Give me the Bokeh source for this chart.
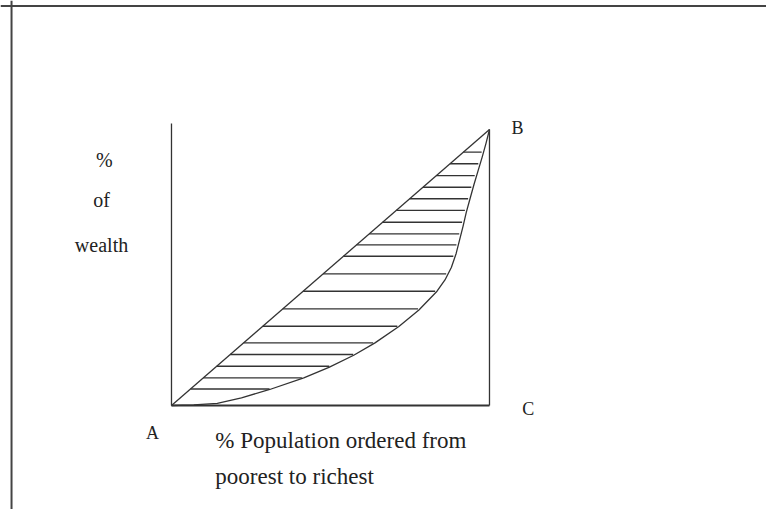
import numpy as np
from bokeh.plotting import figure
from bokeh.models import Span, Label
from bokeh.embed import file_html
from bokeh.resources import INLINE

# Lorenz curve (% population, % wealth)
curve_pop = [0, 7.0, 14.4, 22.0, 30.9, 41.6, 49.5, 57.3, 64.0, 71.5, 77.8, 83.5,
             86.0, 88.0, 89.5, 90.6, 91.7, 92.7, 93.9, 95.1, 96.4, 97.7, 98.9, 100]
curve_wealth = [0, 0.2, 0.8, 2.8, 5.8, 10.0, 13.8, 18.2, 22.7, 28.6, 34.6, 41.4,
                45.5, 50.0, 55.0, 60.0, 65.0, 70.0, 75.0, 80.0, 85.0, 90.0, 95.0, 100]

# line of equality
equality_pop = [0, 100]
equality_wealth = [0, 100]

# heights of the horizontal hatch lines (% wealth)
hatch_levels = [6.0, 10.0, 14.2, 18.5, 22.7, 28.7, 35.0, 41.4, 47.7, 54.1,
                58.2, 62.2, 66.4, 70.7, 74.9, 79.1, 83.3, 87.6, 91.8]

corner_labels = ["A", "B", "C"]
y_label_lines = ["%", "of", "wealth"]
x_label_lines = ["% Population ordered from", "poorest to richest"]

FONT = "Liberation Serif"
INK = "#333333"

p = figure(width=766, height=509, output_backend="svg", toolbar_location=None,
           x_range=(-53.77, 187.11), y_range=(-37.68, 146.74),
           min_border=0, min_border_left=0, min_border_right=0,
           min_border_top=0, min_border_bottom=0)
p.axis.visible = False
p.grid.visible = False
p.outline_line_color = None
p.background_fill_color = "white"

# page border (top and left edges)
p.add_layout(Span(location=144.75, dimension="width", line_color="#444", line_width=2))
p.add_layout(Span(location=-50.3, dimension="height", line_color="#444", line_width=2))

# box: left side, bottom, right side
p.line([0, 0], [0, 102.2], line_color=INK, line_width=1.3)
p.line([0, 100], [0, 0], line_color=INK, line_width=1.8)
p.line([100, 100], [0, 100], line_color=INK, line_width=1.3)

# equality diagonal and Lorenz curve
p.line(equality_pop, equality_wealth, line_color=INK, line_width=1.3)
p.line(curve_pop, curve_wealth, line_color=INK, line_width=1.3)

# hatching between diagonal and curve
lv = np.array(hatch_levels)
x_end = np.interp(lv, curve_wealth, curve_pop)
x_start = np.interp(lv, equality_wealth, equality_pop)
p.segment(x0=x_start, y0=lv, x1=x_end - 0.6, y1=lv, line_color=INK, line_width=1.4)

# corner labels
for txt, (x, y) in zip(corner_labels, [(-6.0, -10.1), (108.8, 100.7), (112.2, -1.1)]):
    p.add_layout(Label(x=x, y=y, text=txt, text_font=FONT, text_font_size="18px",
                       text_color="#222", text_align="center", text_baseline="middle"))

# y label
for txt, (x, y) in zip(y_label_lines, [(-21.1, 88.8), (-22.0, 74.3), (-22.0, 58.0)]):
    p.add_layout(Label(x=x, y=y, text=txt, text_font=FONT, text_font_size="20px",
                       text_color="#222", text_align="center", text_baseline="middle"))

# x label
for txt, (x, y) in zip(x_label_lines, [(13.8, -12.7), (13.8, -25.7)]):
    p.add_layout(Label(x=x, y=y, text=txt, text_font=FONT, text_font_size="23px",
                       text_color="#222", text_align="left", text_baseline="middle"))

open("out.html", "w").write(file_html(p, INLINE))
